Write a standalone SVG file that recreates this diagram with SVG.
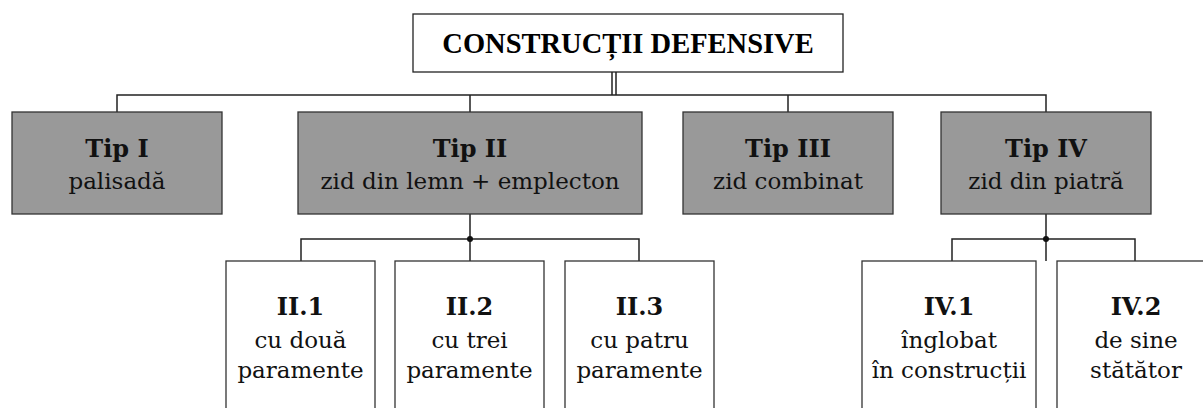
<svg xmlns="http://www.w3.org/2000/svg" width="1203" height="408" viewBox="0 0 1203 408">
<style>
.title{font-family:"Liberation Serif","Times New Roman",serif;font-weight:bold;font-size:28.5px;fill:#000;text-anchor:middle}
.b{font-family:"DejaVu Serif",Georgia,serif;font-weight:bold;font-size:24px;fill:#111;text-anchor:middle}
.r{font-family:"DejaVu Serif",Georgia,serif;font-size:23px;fill:#111;text-anchor:middle}
.tip{fill:#999999;stroke:#333;stroke-width:1.3}
.sub{fill:#fff;stroke:#333;stroke-width:1.3}
.top{fill:#fff;stroke:#222;stroke-width:1.3}
.ln{fill:none;stroke:#222;stroke-width:1.5}
.dot{fill:#111}
</style>
<g id="connectors">
<path class="ln" d="M612,72V95M616,72V95"/>
<path class="ln" d="M117,112V95H1046V112M470,95V112M788,95V112"/>
<path class="ln" d="M470,214V261M301,261V239H639V261"/>
<path class="ln" d="M1046,214V261M952,261V239H1135V261"/>
<circle class="dot" cx="470" cy="239" r="3"/>
<circle class="dot" cx="1046" cy="239" r="3"/>
</g>
<g id="root">
<rect class="top" x="413" y="14" width="430" height="58"/>
<text class="title" x="628" y="53">CONSTRUCȚII DEFENSIVE</text>
</g>
<g id="tip1">
<rect class="tip" x="12" y="112" width="210" height="102"/>
<text class="b" x="117" y="157">Tip I</text>
<text class="r" x="117" y="189">palisadă</text>
</g>
<g id="tip2">
<rect class="tip" x="298" y="112" width="344" height="102"/>
<text class="b" x="470" y="157">Tip II</text>
<text class="r" x="470" y="189">zid din lemn + emplecton</text>
</g>
<g id="tip3">
<rect class="tip" x="683" y="112" width="210" height="102"/>
<text class="b" x="788" y="157">Tip III</text>
<text class="r" x="788" y="189">zid combinat</text>
</g>
<g id="tip4">
<rect class="tip" x="941" y="112" width="210" height="102"/>
<text class="b" x="1046" y="157">Tip IV</text>
<text class="r" x="1046" y="189">zid din piatră</text>
</g>
<g id="ii1">
<rect class="sub" x="226" y="261" width="149" height="160"/>
<text class="b" x="300.5" y="315">II.1</text>
<text class="r" x="300.5" y="348">cu două</text>
<text class="r" x="300.5" y="378">paramente</text>
</g>
<g id="ii2">
<rect class="sub" x="395" y="261" width="149" height="160"/>
<text class="b" x="469.5" y="315">II.2</text>
<text class="r" x="469.5" y="348">cu trei</text>
<text class="r" x="469.5" y="378">paramente</text>
</g>
<g id="ii3">
<rect class="sub" x="565" y="261" width="149" height="160"/>
<text class="b" x="639.5" y="315">II.3</text>
<text class="r" x="639.5" y="348">cu patru</text>
<text class="r" x="639.5" y="378">paramente</text>
</g>
<g id="iv1">
<rect class="sub" x="862" y="261" width="174" height="160"/>
<text class="b" x="949" y="315">IV.1</text>
<text class="r" x="949" y="348">înglobat</text>
<text class="r" x="949" y="378">în construcții</text>
</g>
<g id="iv2">
<rect class="sub" x="1057" y="261" width="160" height="160"/>
<text class="b" x="1136" y="315">IV.2</text>
<text class="r" x="1136" y="348">de sine</text>
<text class="r" x="1136" y="378">stătător</text>
</g>
</svg>
